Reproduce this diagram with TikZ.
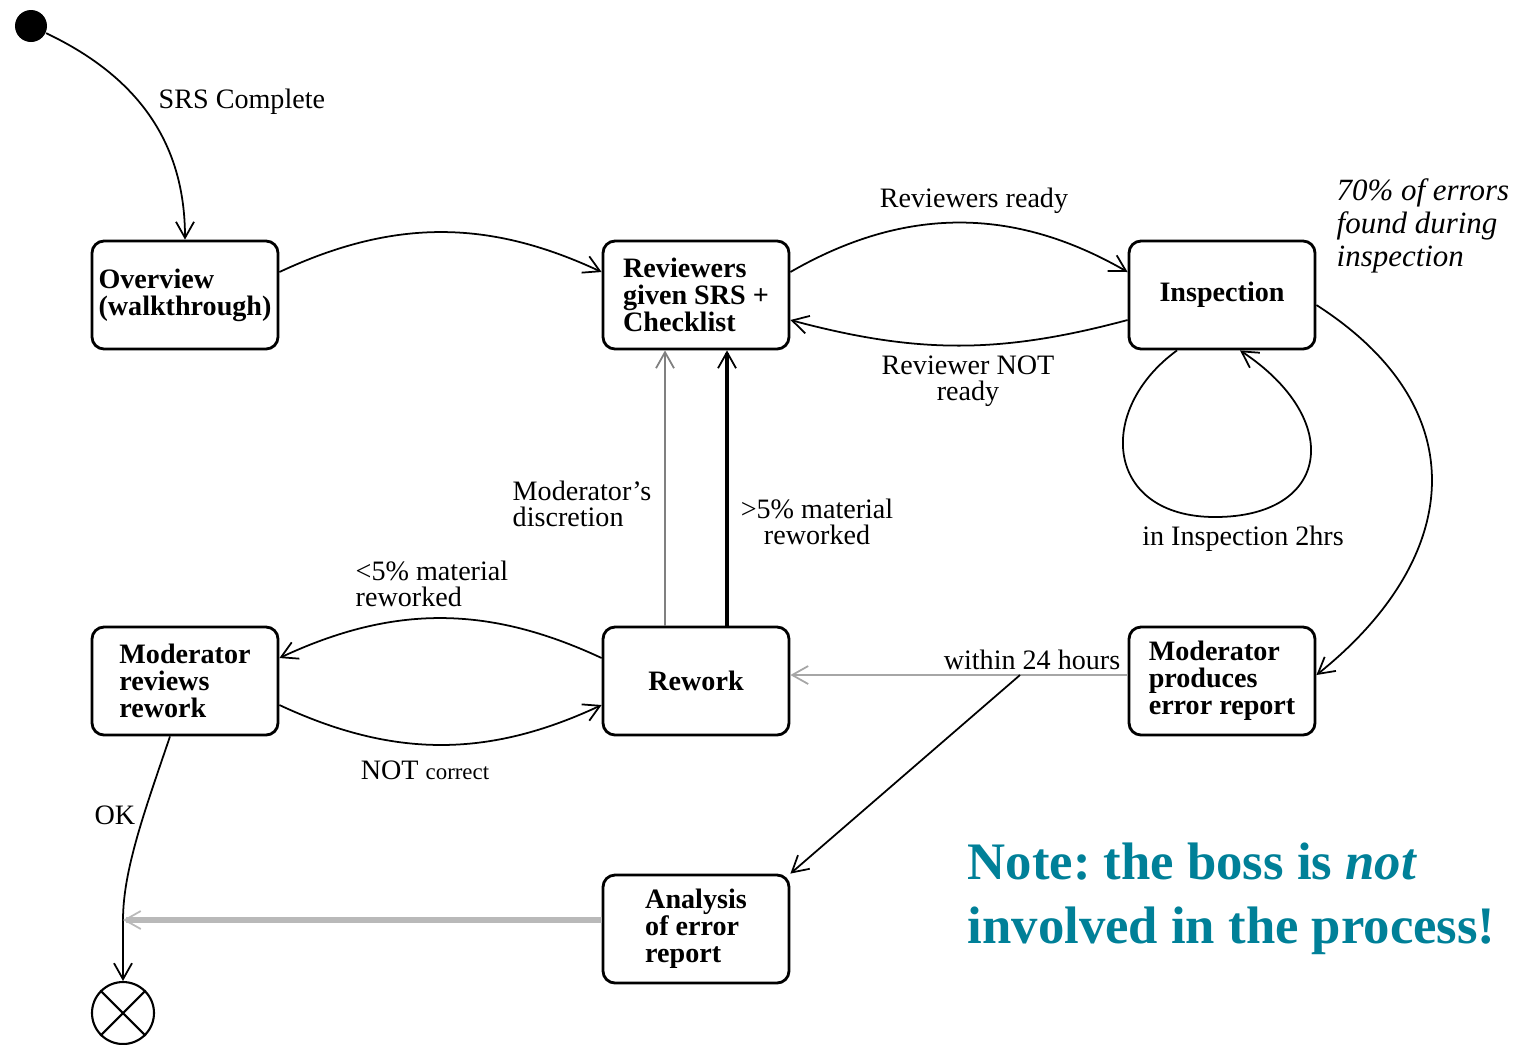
\documentclass[tikz,border=0pt]{standalone}
\usepackage{fontspec}
\setmainfont{Liberation Serif}
\frenchspacing
\usetikzlibrary{arrows.meta}
\definecolor{notecol}{RGB}{0,128,152}
\tikzset{
    state/.style={draw, line width=0.8pt, rounded corners=0.12cm, minimum width=1.86cm, minimum height=1.08cm, align=left, inner sep=0pt, font=\fontsize{8}{7.7}\selectfont\bfseries},
    lbl/.style={inner sep=0pt, font=\fontsize{8}{7.5}\selectfont},
    trans/.style={-{Straight Barb[length=1.6mm,width=1.8mm,line width=0.5pt]}, line width=0.5pt},
}
\begin{document}
\begin{tikzpicture}
        \useasboundingbox (0,0) rectangle (15.22,-10.44);

        \node (init) [circle, fill, minimum size=0.32cm, inner sep=0pt] at (0.31,-0.26) {};
        \node (ovw) [state] at (1.85,-2.95) {Overview\\(walkthrough)};
        \node (rev) [state] at (6.96,-2.95) {Reviewers\\given SRS +\\Checklist};
        \node (insp) [state] at (12.22,-2.95) {Inspection};
        \node (modrev) [state] at (1.85,-6.81) {Moderator\\reviews\\rework};
        \node (rework) [state] at (6.96,-6.81) {Rework};
        \node (modprod) [state] at (12.22,-6.81) {Moderator\\produces\\error report};
        \node (anal) [state] at (6.96,-9.29) {Analysis\\of error\\report};
        \node (fin) [circle, draw, line width=0.6pt, minimum size=0.62cm, inner sep=0pt] at (1.23,-10.13) {};
        \draw[line width=0.6pt] (fin.north west) -- (fin.south east) (fin.north east) -- (fin.south west);

        \coordinate (split) at (10.20,-6.75);
        \coordinate (okjoin) at (1.23,-9.20);

        \draw[trans] (init) .. controls (1.45,-0.8) and (1.85,-1.5) .. (ovw.north);
        \draw[trans] ([yshift=0.23cm]ovw.east) to[bend left=25] ([yshift=0.23cm]rev.west);
        \draw[trans] ([yshift=0.23cm]rev.east) to[bend left=30] ([yshift=0.23cm]insp.west);
        \draw[trans] ([yshift=-0.25cm]insp.west) to[bend left=15] ([yshift=-0.25cm]rev.east);
        \draw[trans] ([xshift=-0.45cm]insp.south) .. controls (10.95,-4.1) and (11.05,-5.17) .. (12.15,-5.17)
            .. controls (13.3,-5.17) and (13.45,-4.2) .. ([xshift=0.18cm]insp.south);
        \draw[trans] ([yshift=-0.1cm]insp.east) .. controls (14.8,-4.1) and (14.6,-5.6) .. ([yshift=0.06cm]modprod.east);
        \draw[trans, gray, line width=0.8pt] ([xshift=-0.31cm]rework.north) -- ([xshift=-0.31cm]rev.south);
        \draw[trans, line width=1.3pt] ([xshift=0.31cm]rework.north) -- ([xshift=0.31cm]rev.south);
        \draw[trans] ([yshift=0.23cm]rework.west) to[bend right=25] ([yshift=0.23cm]modrev.east);
        \draw[trans] ([yshift=-0.24cm]modrev.east) to[bend right=25] ([yshift=-0.24cm]rework.west);
        \draw[trans, gray!70, line width=0.8pt] (modprod.west |- split) -- (rework.east |- split);
        \draw[trans] (split) -- (anal.north east);
        \draw[line width=0.5pt] ([xshift=-0.15cm]modrev.south) .. controls (1.45,-8.1) and (1.23,-8.7) .. (okjoin);
        \draw[trans] (okjoin) -- (fin);
        \draw[trans, gray!55, line width=1.6pt] (anal.west |- okjoin) -- (okjoin);

        \node (srslbl) [lbl, anchor=west] at (1.58,-1.02) {SRS Complete};
        \node (readylbl) [lbl] at (9.74,-2.01) {Reviewers ready};
        \node (notreadylbl) [lbl, align=center] at (9.68,-3.81) {Reviewer NOT\\ready};
        \node (looplbl) [lbl] at (12.43,-5.39) {in Inspection 2hrs};
        \node (errlbl) [lbl, anchor=west, align=left, font=\fontsize{8.8}{9.4}\selectfont\itshape] at (13.36,-2.26) {70\% of errors\\found during\\inspection};
        \node (disclbl) [lbl, anchor=west, align=left] at (5.12,-5.04) {Moderator’s\\discretion};
        \node (morelbl) [lbl, align=center] at (8.17,-5.22) {>5\% material\\reworked};
        \node (lesslbl) [lbl, anchor=west, align=left] at (3.55,-5.84) {<5\% material\\reworked};
        \node (notlbl) [lbl] at (4.25,-7.70) {NOT {\fontsize{6.5}{7}\selectfont correct}};
        \node (withinlbl) [lbl] at (10.32,-6.60) {within 24 hours};
        \node (oklbl) [lbl] at (1.15,-8.15) {OK};

        \node (note1) [anchor=base west, inner sep=0pt, text=notecol, font=\fontsize{15}{17}\selectfont\bfseries] at (9.67,-8.79) {Note: the boss is \textit{not}};
        \node (note2) [anchor=base west, inner sep=0pt, text=notecol, font=\fontsize{15}{17}\selectfont\bfseries] at (9.67,-9.43) {involved in the process!};
    \end{tikzpicture}
\end{document}
